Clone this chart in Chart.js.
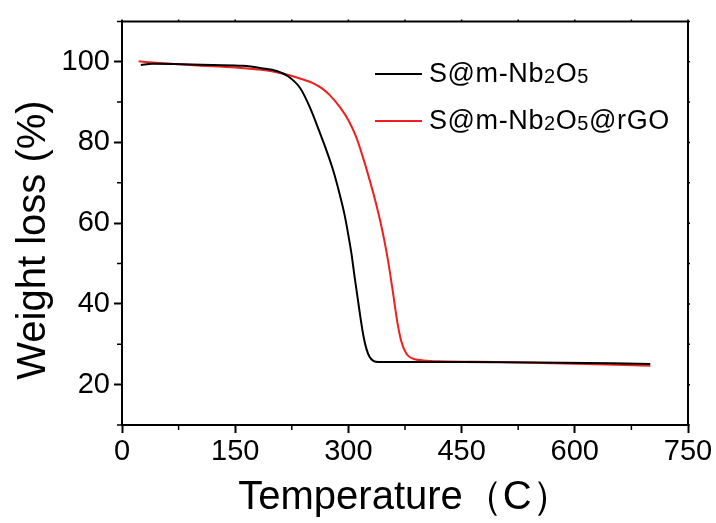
<!DOCTYPE html>
<html>
<head>
<meta charset="utf-8">
<script src="https://cdn.jsdelivr.net/npm/chart.js@4.4.1/dist/chart.umd.min.js"></script>
<style>
    body { margin: 0; background: #fff; }
    #wrap { position: relative; width: 716px; height: 523px; }
    #legend { position: absolute; left: 375px; top: 50px; font-family: "Liberation Sans", Arial, sans-serif; font-size: 27px; letter-spacing: 0.6px; color: #000; }
    .row { display: flex; align-items: center; height: 47px; }
    .swatch { width: 47px; height: 2px; margin-right: 7px; }
    .sub { font-size: 0.74em; vertical-align: -0.04em; }
</style>
</head>
<body>
<div id="wrap">
    <canvas id="tgaChart" width="716" height="523"></canvas>
    <div id="legend"></div>
</div>
<script>
// TGA curves
var seriesNames = ['S@m-Nb2O5', 'S@m-Nb2O5@rGO'];
var seriesColors = ['#000000', '#f01e1e'];

var tempBlack = [25, 40, 80, 120, 160, 185, 205, 220, 236, 249, 262, 271, 280, 288, 295, 300, 304, 308, 312, 316, 320, 324, 328, 333, 340, 360, 450, 550, 650, 700];
var weightBlack = [99.2, 99.5, 99.4, 99.2, 99.0, 98.4, 97.7, 96.4, 93.5, 88.7, 82.5, 78.0, 73.0, 67.5, 62.0, 57.0, 52.5, 47.0, 41.8, 36.6, 32.0, 28.8, 26.9, 25.9, 25.6, 25.6, 25.6, 25.5, 25.3, 25.1];

var tempRed = [22, 50, 100, 150, 180, 200, 223, 240, 253, 265, 275, 289, 300, 310, 319, 328, 337, 344, 350, 355, 360, 365, 370, 375, 380, 388, 400, 420, 500, 600, 700];
var weightRed = [100.1, 99.7, 99.1, 98.6, 98.1, 97.6, 96.6, 95.6, 94.7, 93.4, 91.8, 88.7, 85.5, 81.5, 76.5, 70.8, 64.6, 59.0, 53.4, 47.9, 41.6, 35.3, 30.8, 28.3, 27.0, 26.3, 26.0, 25.8, 25.6, 25.2, 24.7];

var xTicks = [0, 150, 300, 450, 600, 750];
var xMinor = [75, 225, 375, 525, 675];
var yTicks = [20, 40, 60, 80, 100];
var yMinor = [10, 30, 50, 70, 90, 110];

var fontFamily = '"Liberation Sans", Arial, sans-serif';

function toPoints(xs, ys) {
    return xs.map(function (x, i) { return { x: x, y: ys[i] }; });
}

// extra ticks, the top/right frame and the y title
var framePlugin = {
    id: 'frame',
    afterDraw: function (chart) {
        var c = chart.ctx, a = chart.chartArea;
        var xs = chart.scales.x, ys = chart.scales.y;
        c.save();
        c.strokeStyle = '#000';
        c.lineWidth = 2;
        c.beginPath();
        c.moveTo(a.left, a.top); c.lineTo(a.right, a.top); c.lineTo(a.right, a.bottom);
        c.stroke();
        c.lineWidth = 1.5;
        c.beginPath();
        xMinor.forEach(function (v) {
            var px = xs.getPixelForValue(v);
            c.moveTo(px, a.bottom); c.lineTo(px, a.bottom + 5);
        });
        yMinor.forEach(function (v) {
            var py = ys.getPixelForValue(v);
            c.moveTo(a.left, py); c.lineTo(a.left - 5, py);
        });
        xTicks.concat(xMinor).forEach(function (v) {
            var px = xs.getPixelForValue(v);
            c.moveTo(px, a.top); c.lineTo(px, a.top - 2);
        });
        yTicks.concat(yMinor).forEach(function (v) {
            var py = ys.getPixelForValue(v);
            c.moveTo(a.right, py); c.lineTo(a.right + 2, py);
        });
        c.stroke();

        c.fillStyle = '#000';
        c.font = '40px ' + fontFamily;
        c.textAlign = 'center';
        c.textBaseline = 'middle';
        c.translate(34, 240);
        c.rotate(-Math.PI / 2);
        c.fillText('Weight loss (%)', 0, 0);
        c.restore();
    }
};

var ctx = document.getElementById('tgaChart').getContext('2d');
var tgaChart = new Chart(ctx, {
    type: 'line',
    data: {
        datasets: [{
            label: seriesNames[0],
            data: toPoints(tempBlack, weightBlack),
            borderColor: seriesColors[0],
            borderWidth: 2,
            pointRadius: 0,
            cubicInterpolationMode: 'monotone',
            fill: false
        }, {
            label: seriesNames[1],
            data: toPoints(tempRed, weightRed),
            borderColor: seriesColors[1],
            borderWidth: 2,
            pointRadius: 0,
            cubicInterpolationMode: 'monotone',
            fill: false
        }]
    },
    options: {
        responsive: false,
        animation: false,
        layout: { padding: { top: 13, right: 28, left: 0, bottom: 0 } },
        plugins: { legend: { display: false }, tooltip: { enabled: false } },
        scales: {
            x: {
                type: 'linear',
                min: 0,
                max: 750,
                afterBuildTicks: function (s) { s.ticks = xTicks.map(function (v) { return { value: v }; }); },
                afterFit: function (s) { s.height = 98; },
                grid: { drawOnChartArea: false, tickLength: 8, tickWidth: 2, tickColor: '#000' },
                border: { color: '#000', width: 2 },
                ticks: { color: '#000', font: { family: fontFamily, size: 29 }, padding: 2, maxRotation: 0, autoSkip: false },
                title: { display: true, text: 'Temperature（C）', color: '#000', font: { family: fontFamily, size: 40 }, padding: { top: 0, bottom: 1 } }
            },
            y: {
                min: 10,
                max: 110,
                afterBuildTicks: function (s) { s.ticks = yTicks.map(function (v) { return { value: v }; }); },
                afterFit: function (s) { s.width = 122; },
                grid: { drawOnChartArea: false, tickLength: 8, tickWidth: 2, tickColor: '#000' },
                border: { color: '#000', width: 2 },
                ticks: { color: '#000', font: { family: fontFamily, size: 29 }, padding: 4, autoSkip: false }
            }
        }
    },
    plugins: [framePlugin]
});

// legend with subscripts, built from the datasets
var legendHtml = '';
tgaChart.data.datasets.forEach(function (ds) {
    var label = ds.label.replace(/(\d)/g, '<span class="sub">$1</span>');
    legendHtml += '<div class="row"><div class="swatch" style="background:' + ds.borderColor + '"></div><span>' + label + '</span></div>';
});
document.getElementById('legend').innerHTML = legendHtml;
</script>
</body>
</html>
